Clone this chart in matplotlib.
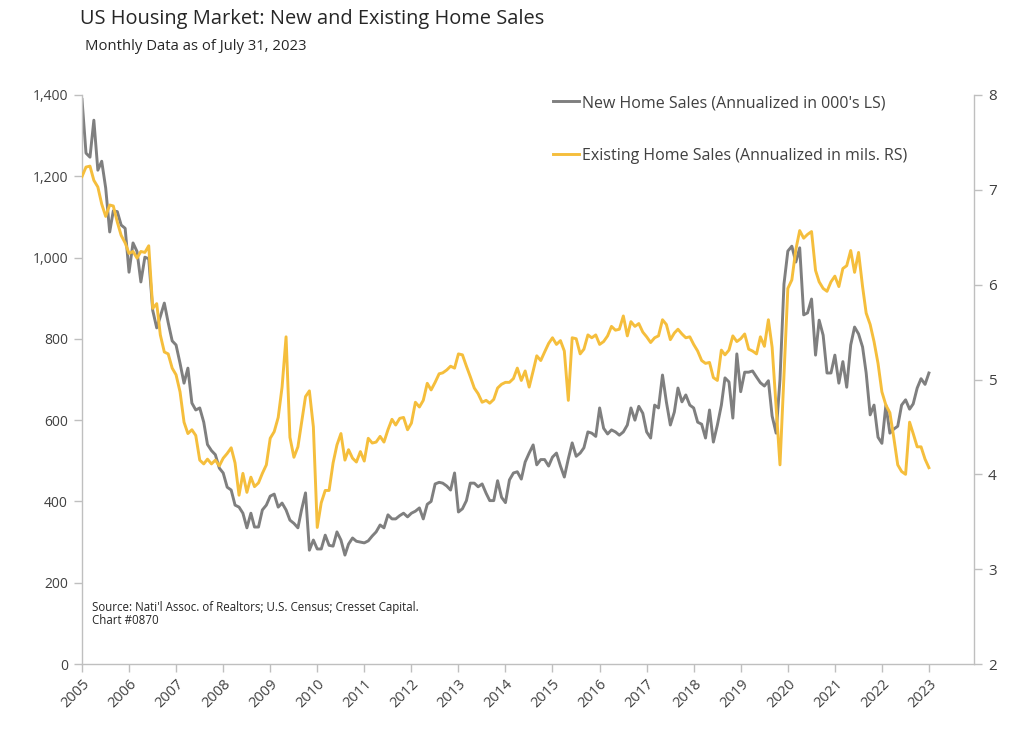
import matplotlib
matplotlib.use("Agg")
import matplotlib.pyplot as plt
import pandas as pd
import numpy as np

plt.rcParams['font.family'] = ['Open Sans', 'DejaVu Sans']

# ---- data (monthly, Jul 2005 - Jul 2023) ----
start_month = "2005-07-01"
new_home_sales = [
    1389, 1257, 1247, 1338, 1215, 1237, 1171, 1063, 1115, 1113, 1080, 1072, 964, 1036, 1015, 940, 1001, 997,
    870, 827, 855, 888, 840, 795, 785, 740, 691, 728, 642, 625, 630, 595, 540, 525, 515, 482, 470, 435,
    428, 391, 386, 371, 335, 371, 337, 337, 379, 391, 413, 418, 386, 396, 379, 354, 346, 335, 379, 421,
    280, 305, 283, 283, 317, 292, 290, 325, 305, 268, 295, 310, 302, 300, 298, 303, 315, 325, 342, 335,
    367, 357, 357, 365, 371, 362, 371, 376, 384, 357, 393, 400, 443, 447, 445, 438, 428, 470, 374, 382,
    402, 445, 445, 436, 443, 420, 402, 402, 451, 410, 397, 453, 470, 473, 455, 497, 519, 539, 490, 503,
    503, 487, 509, 519, 487, 460, 505, 544, 511, 519, 532, 571, 568, 560, 630, 580, 566, 576, 571, 563,
    571, 588, 630, 600, 634, 617, 571, 556, 637, 630, 711, 645, 588, 620, 679, 645, 662, 637, 630, 595,
    590, 556, 625, 546, 588, 637, 704, 694, 605, 763, 670, 718, 718, 721, 706, 692, 684, 697, 610, 568,
    700, 935, 1016, 1028, 989, 1024, 859, 864, 898, 760, 846, 809, 716, 716, 760, 691, 744, 681, 785, 829,
    812, 780, 716, 613, 637, 558, 543, 637, 568, 578, 585, 637, 650, 627, 640, 679, 702, 688, 716,
]
existing_home_sales = [
    7.14, 7.24, 7.25, 7.10, 7.03, 6.85, 6.72, 6.84, 6.83, 6.66, 6.52, 6.44, 6.33, 6.35, 6.28, 6.35, 6.34, 6.41,
    5.75, 5.80, 5.47, 5.29, 5.27, 5.12, 5.05, 4.87, 4.55, 4.43, 4.47, 4.41, 4.15, 4.11, 4.16, 4.11, 4.15, 4.09, 4.17, 4.22,
    4.28, 4.12, 3.78, 4.01, 3.81, 3.97, 3.87, 3.91, 4.01, 4.10, 4.38, 4.45, 4.60, 4.92, 5.45, 4.39, 4.18, 4.29, 4.54, 4.82,
    4.88, 4.50, 3.44, 3.70, 3.83, 3.83, 4.12, 4.31, 4.43, 4.15, 4.26, 4.17, 4.13, 4.24, 4.14, 4.38, 4.33, 4.34, 4.40, 4.34,
    4.47, 4.58, 4.52, 4.59, 4.60, 4.47, 4.54, 4.76, 4.71, 4.78, 4.96, 4.89, 4.97, 5.06, 5.07, 5.10, 5.14, 5.12, 5.27, 5.26,
    5.14, 5.03, 4.91, 4.85, 4.76, 4.78, 4.75, 4.79, 4.91, 4.95, 4.97, 4.97, 5.01, 5.12, 4.99, 5.09, 4.92, 5.09, 5.25, 5.20,
    5.29, 5.38, 5.44, 5.37, 5.41, 5.30, 4.78, 5.44, 5.43, 5.27, 5.32, 5.47, 5.44, 5.47, 5.37, 5.40, 5.46, 5.56, 5.52, 5.53,
    5.67, 5.46, 5.61, 5.56, 5.59, 5.50, 5.45, 5.39, 5.44, 5.46, 5.63, 5.58, 5.42, 5.49, 5.53, 5.48, 5.44, 5.45, 5.37, 5.30,
    5.20, 5.17, 5.18, 5.02, 4.99, 5.31, 5.26, 5.31, 5.46, 5.40, 5.43, 5.48, 5.32, 5.30, 5.27, 5.45, 5.35, 5.63, 5.34, 4.71,
    4.10, 5.05, 5.96, 6.05, 6.37, 6.57, 6.49, 6.53, 6.56, 6.15, 6.03, 5.96, 5.93, 6.03, 6.09, 5.98, 6.17, 6.20, 6.36, 6.13,
    6.34, 5.98, 5.70, 5.58, 5.40, 5.17, 4.87, 4.73, 4.65, 4.39, 4.10, 4.03, 4.00, 4.55, 4.43, 4.29, 4.29, 4.16, 4.07,
]
year_labels = [str(y) for y in range(2005, 2024)]
left_ticks = [0, 200, 400, 600, 800, 1000, 1200, 1400]
right_ticks = [2, 3, 4, 5, 6, 7, 8]

dates = pd.date_range(start_month, periods=len(new_home_sales), freq="MS")
tick_dates = pd.date_range(start_month, periods=len(year_labels), freq="12MS")

GRAY = "#7f7f7f"
GOLD = "#F5BE3C"
SPINE = "#bfbfbf"
TXT = "#404040"

fig = plt.figure(figsize=(10.24, 7.38), dpi=100)
ax = fig.add_axes([82/1024, 1-664/738, (974-82)/1024, (664-95)/738])
ax2 = ax.twinx()

l1, = ax.plot(dates, new_home_sales, color=GRAY, lw=2.1, solid_joinstyle="round",
              label="New Home Sales (Annualized in 000's LS)")
l2, = ax2.plot(dates, existing_home_sales, color=GOLD, lw=2.1, solid_joinstyle="round",
               label="Existing Home Sales (Annualized in mils. RS)")

ax.set_ylim(0, 1400)
ax2.set_ylim(2, 8)
ax.set_xlim(dates[0], pd.Timestamp("2024-06-15"))

ax.set_yticks(left_ticks)
ax.set_yticklabels([f"{v:,}" for v in left_ticks])
ax2.set_yticks(right_ticks)
ax2.set_yticklabels([str(v) for v in right_ticks])
ax.set_xticks(tick_dates)
ax.set_xticklabels(year_labels, rotation=45, ha="right", va="top", rotation_mode="anchor")

for a in (ax, ax2):
    a.spines["top"].set_visible(False)
    for s in ("left", "right", "bottom"):
        a.spines[s].set_color(SPINE)
        a.spines[s].set_linewidth(1.0)
ax.spines["right"].set_visible(False)
ax2.spines["left"].set_visible(False)
ax2.spines["bottom"].set_visible(False)

ax.tick_params(axis="y", direction="out", length=6, width=1, color=SPINE, labelcolor=TXT, labelsize=10, pad=4)
ax.tick_params(axis="x", direction="out", length=6, width=1, color=SPINE, labelcolor=TXT, labelsize=10.5, pad=3)
ax2.tick_params(axis="y", direction="out", length=6, width=1, color=SPINE, labelcolor=TXT, labelsize=11, pad=4)

fig.text(80/1024, 1-19/738, "US Housing Market: New and Existing Home Sales",
         fontsize=14.4, color="#262626", ha="left", va="center")
fig.text(85/1024, 1-47/738, "Monthly Data as of July 31, 2023",
         fontsize=10.7, color="#262626", ha="left", va="center")

ax.text(92/1024, 1-607/738, "Source: Nati'l Assoc. of Realtors; U.S. Census; Cresset Capital.",
        transform=fig.transFigure, fontsize=8.3, color="#262626", ha="left", va="center")
ax.text(92/1024, 1-621/738, "Chart #0870",
        transform=fig.transFigure, fontsize=8.3, color="#262626", ha="left", va="center")

leg = ax2.legend(handles=[l1, l2], loc="upper left", bbox_to_anchor=(553/1024, 1-95/738),
                 bbox_transform=fig.transFigure, frameon=False, fontsize=11.5,
                 handlelength=1.6, handletextpad=0.2, labelspacing=2.3,
                 borderpad=0, borderaxespad=0)
for t in leg.get_texts():
    t.set_color(TXT)

fig.savefig("out.png", dpi=100, facecolor="white")
